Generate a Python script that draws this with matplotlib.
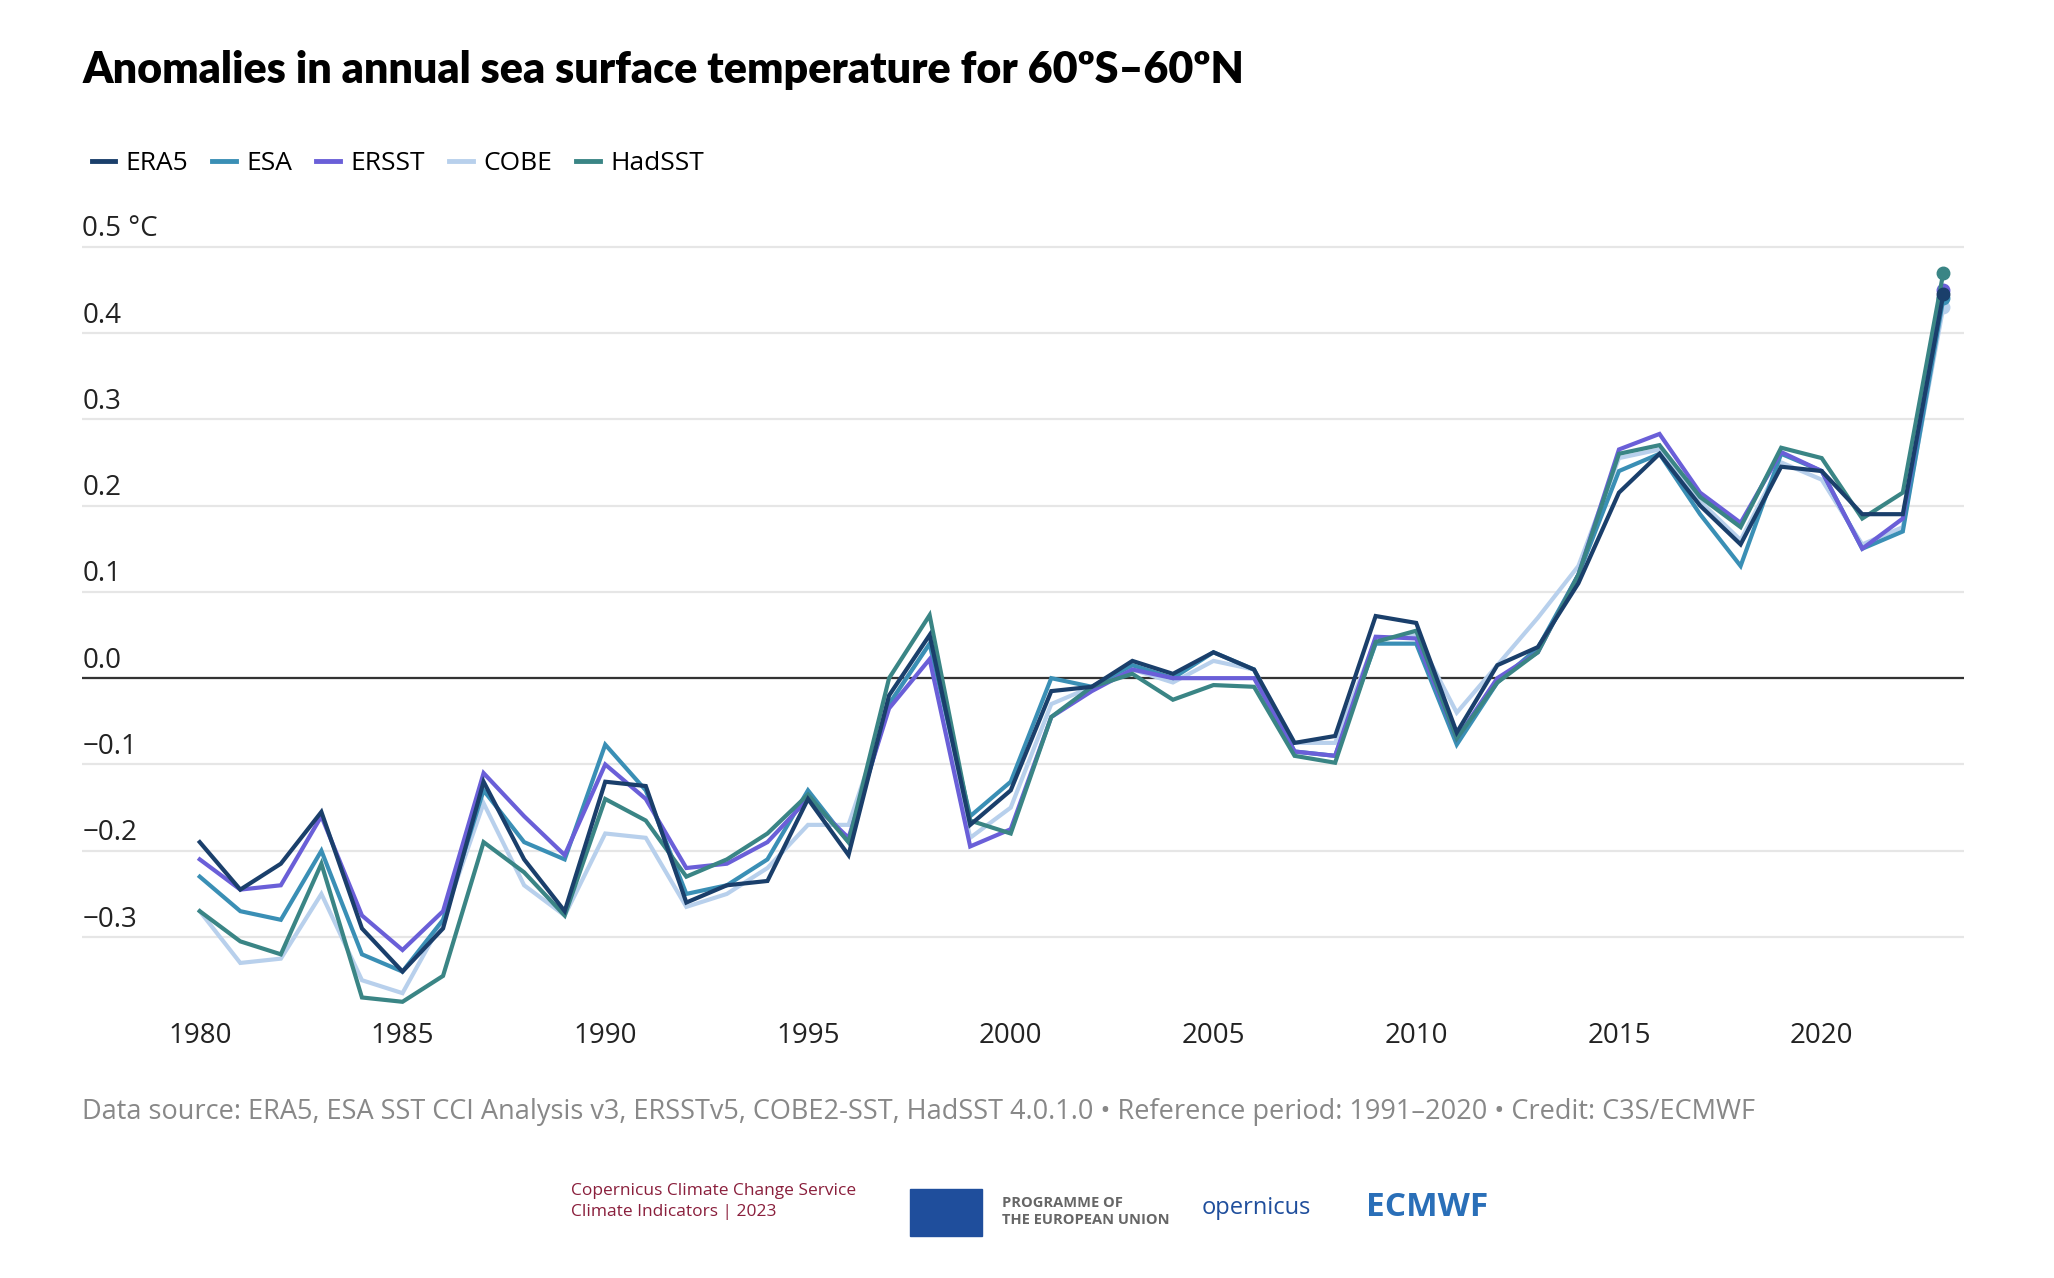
import matplotlib.pyplot as plt
import matplotlib.transforms as mtransforms
from matplotlib.patches import Rectangle

years = list(range(1980, 2024))

era5 = [-0.19, -0.245, -0.215, -0.155, -0.29, -0.34, -0.29, -0.12, -0.21, -0.27,
        -0.12, -0.125, -0.26, -0.24, -0.235, -0.14, -0.205, -0.02, 0.05, -0.17,
        -0.13, -0.015, -0.01, 0.02, 0.005, 0.03, 0.01, -0.075, -0.067, 0.072,
        0.064, -0.063, 0.015, 0.036, 0.11, 0.215, 0.26, 0.2, 0.155, 0.245,
        0.24, 0.19, 0.19, 0.445]
esa = [-0.23, -0.27, -0.28, -0.2, -0.32, -0.34, -0.28, -0.13, -0.19, -0.21,
       -0.077, -0.13, -0.25, -0.24, -0.21, -0.13, -0.19, -0.03, 0.04, -0.16,
       -0.12, 0.0, -0.01, 0.015, 0.0, 0.03, 0.01, -0.085, -0.09, 0.04,
       0.04, -0.077, -0.005, 0.035, 0.12, 0.24, 0.26, 0.19, 0.13, 0.26,
       0.24, 0.15, 0.17, 0.44]
ersst = [-0.21, -0.245, -0.24, -0.16, -0.275, -0.315, -0.27, -0.11, -0.16, -0.205,
         -0.1, -0.14, -0.22, -0.215, -0.19, -0.14, -0.185, -0.035, 0.022, -0.195,
         -0.175, -0.045, -0.015, 0.01, 0.0, 0.0, 0.0, -0.085, -0.09, 0.048,
         0.046, -0.07, 0.0, 0.03, 0.12, 0.265, 0.283, 0.215, 0.18, 0.262,
         0.24, 0.15, 0.185, 0.45]
cobe = [-0.27, -0.33, -0.325, -0.25, -0.35, -0.365, -0.28, -0.145, -0.24, -0.275,
        -0.18, -0.185, -0.265, -0.25, -0.22, -0.17, -0.17, -0.03, 0.04, -0.185,
        -0.15, -0.03, -0.01, 0.01, -0.005, 0.02, 0.01, -0.075, -0.075, 0.045,
        0.05, -0.04, 0.015, 0.07, 0.13, 0.255, 0.265, 0.205, 0.16, 0.25,
        0.23, 0.155, 0.175, 0.43]
hadsst = [-0.27, -0.305, -0.32, -0.215, -0.37, -0.375, -0.345, -0.19, -0.225, -0.275,
          -0.14, -0.165, -0.23, -0.21, -0.18, -0.135, -0.19, 0.0, 0.073, -0.165,
          -0.18, -0.045, -0.01, 0.005, -0.025, -0.008, -0.01, -0.09, -0.098, 0.042,
          0.055, -0.07, -0.005, 0.03, 0.12, 0.26, 0.27, 0.21, 0.175, 0.267,
          0.255, 0.185, 0.215, 0.47]

names = ["ERA5", "ESA", "ERSST", "COBE", "HadSST"]
colors = ["#1a3f6b", "#3a8fb5", "#6a5fd8", "#b8d0ec", "#3a8585"]
series = [era5, esa, ersst, cobe, hadsst]
yticks = [-0.3, -0.2, -0.1, 0.0, 0.1, 0.2, 0.3, 0.4, 0.5]
ytick_labels = ["\u22120.3", "\u22120.2", "\u22120.1", "0.0", "0.1", "0.2", "0.3", "0.4", "0.5 \u00b0C"]
xticks = [1980, 1985, 1990, 1995, 2000, 2005, 2010, 2015, 2020]

plt.rcParams['font.family'] = ['Open Sans', 'DejaVu Sans']

fig = plt.figure(figsize=(20.54, 12.78), dpi=100)
ax = fig.add_axes([0.04, 0.206, 0.916, 0.6145])

# draw light lines first so darker ones sit on top
order = [3, 1, 2, 4, 0]
for i in order:
    ax.plot(years, series[i], color=colors[i], lw=3, solid_joinstyle='miter', zorder=3 + order.index(i))
    ax.plot(years[-1], series[i][-1], 'o', color=colors[i], ms=9, zorder=3 + order.index(i))

ax.set_xlim(1977.1, 2023.5)
ax.set_ylim(-0.39, 0.52)
for y in yticks:
    ax.axhline(y, color="#e6e6e6", lw=1.6, zorder=1)
ax.axhline(0, color="#333333", lw=1.6, zorder=2)

ax.set_yticks([])
ax.set_xticks(xticks)
ax.tick_params(axis='x', length=0, labelsize=20, colors="#222222", pad=5)
for s in ax.spines.values():
    s.set_visible(False)

trans = mtransforms.blended_transform_factory(ax.transAxes, ax.transData)
for y, lab in zip(yticks, ytick_labels):
    ax.text(0.0, y + 0.004, lab, transform=trans, ha='left', va='bottom', fontsize=20, color="#222222")

fig.text(0.04, 0.945, "Anomalies in annual sea surface temperature for 60\u00baS\u201360\u00baN",
         fontsize=31, fontweight='heavy', ha='left', va='center', family=['Lato', 'DejaVu Sans'])

handles = [plt.Line2D([], [], color=c, lw=3.5) for c in colors]
fig.legend(handles, names, loc='center left', bbox_to_anchor=(0.033, 0.872), ncol=5, frameon=False,
           fontsize=19, handlelength=0.9, handletextpad=0.4, columnspacing=0.9)

fig.text(0.04, 0.13, "Data source: ERA5, ESA SST CCI Analysis v3, ERSSTv5, COBE2-SST, HadSST 4.0.1.0 \u2022 "
         "Reference period: 1991\u20132020 \u2022 Credit: C3S/ECMWF",
         fontsize=19.5, color="#888888", ha='left', va='center')

# footer logos (approximated with text)
fig.text(0.278, 0.06, "Copernicus Climate Change Service\nClimate Indicators | 2023", fontsize=12.5,
         color="#8a1f3c", ha='left', va='center', linespacing=1.4)
fig.patches.append(Rectangle((0.443, 0.033), 0.035, 0.037, transform=fig.transFigure, color="#1f4e9c"))
fig.text(0.488, 0.052, "PROGRAMME OF\nTHE EUROPEAN UNION", fontsize=10.5, color="#666666",
         fontweight='bold', ha='left', va='center', linespacing=1.2)
fig.text(0.585, 0.055, "opernicus", fontsize=17, color="#1f4e9c", ha='left', va='center')
fig.text(0.665, 0.055, "ECMWF", fontsize=24, color="#2a6fb8", fontweight='bold', ha='left', va='center')

fig.savefig("out.png", dpi=100)
